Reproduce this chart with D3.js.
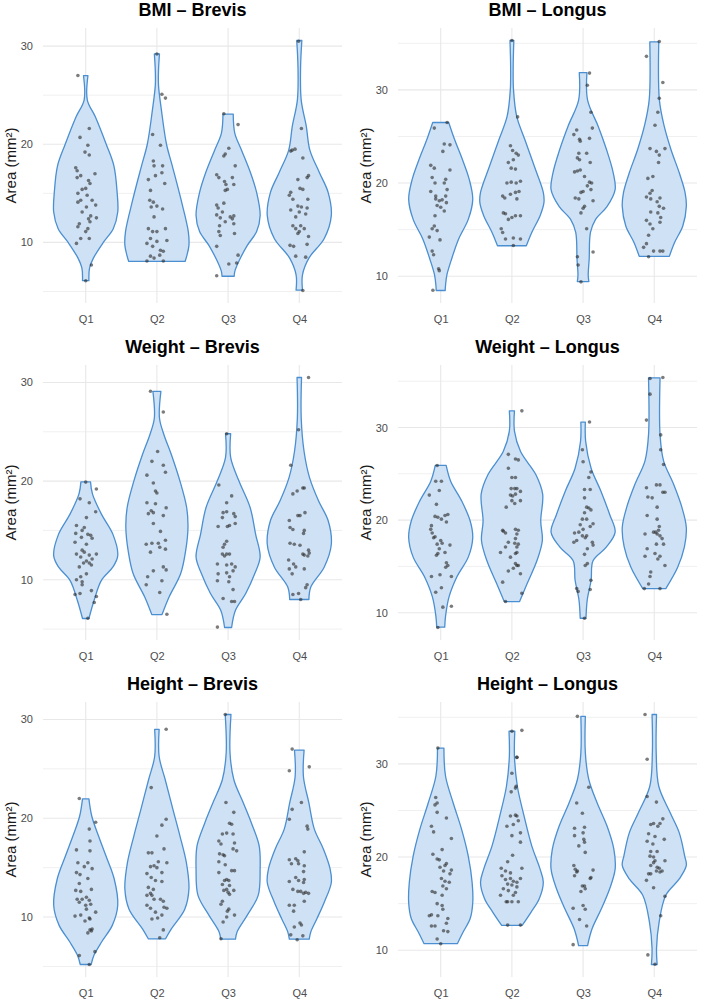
<!DOCTYPE html>
<html><head><meta charset="utf-8">
<script src="https://cdn.jsdelivr.net/npm/d3@7"></script>
<style>body{margin:0;background:#fff;} svg text{font-family:"Liberation Sans",Arial,Helvetica,sans-serif;}</style>
</head><body><svg id="c" width="702" height="999"></svg>
<script>
const quartiles = ["Q1","Q2","Q3","Q4"];
const panelTitles = ["BMI – Brevis","BMI – Longus","Weight – Brevis","Weight – Longus","Height – Brevis","Height – Longus"];
const yTickValues = [10,20,30];
const yLabel = "Area (mm²)";

// Violin density profiles: [area value, relative width (1 = widest)] from min to max, per quartile
const bmiBrevisDensity = [
 [[6.1,0.1],[7.4,0.12],[8.4,0.24],[10,0.55],[11.4,0.86],[13.1,1.0],[15.1,0.98],[17.8,0.88],[20,0.64],[22.8,0.3],[24.5,0.05],[27.0,0.07]],
 [[8.06,0.88],[8.6,0.93],[9.7,1.0],[11.1,0.98],[14.4,0.75],[17.8,0.48],[20,0.3],[23.5,0.14],[26,0.05],[27.5,0.05],[29.2,0.08]],
 [[6.55,0.19],[7.05,0.21],[8.1,0.34],[9.7,0.6],[11.1,0.89],[12.75,1.0],[15.1,0.89],[17.1,0.7],[19.4,0.42],[21.1,0.21],[23.07,0.16]],
 [[5.14,0.1],[6.7,0.1],[8.4,0.3],[10.4,0.78],[12.75,1.0],[15.1,0.9],[17.1,0.63],[19.4,0.33],[21.8,0.22],[24.5,0.06],[27.8,0.04],[30.57,0.08]]
];
const bmiLongusDensity = [
 [[8.47,0.14],[9.0,0.15],[10.1,0.19],[11.85,0.34],[14.0,0.56],[16.1,0.86],[18.25,1.0],[20.4,0.89],[22.5,0.68],[24.7,0.43],[26.5,0.25]],
 [[13.27,0.45],[14.7,0.62],[16.5,0.88],[17.9,1.0],[19.0,0.98],[21.8,0.7],[24.7,0.4],[27.15,0.15],[30,0.05],[32.5,0.04],[35.3,0.06]],
 [[9.43,0.18],[10.1,0.16],[11.85,0.19],[14.7,0.23],[16.1,0.39],[17.5,0.75],[19.3,1.0],[21.1,0.94],[23.6,0.73],[26.1,0.47],[28.9,0.14],[31.85,0.12]],
 [[12.14,0.47],[13.6,0.63],[15.4,0.89],[17.5,1.0],[19.0,0.96],[21.1,0.78],[23.6,0.52],[26.1,0.31],[28.9,0.16],[35.16,0.14]]
];
const weightBrevisDensity = [
 [[6.07,0.1],[7.9,0.26],[9.93,0.49],[11.3,0.85],[12.45,1.0],[14.6,0.85],[16.65,0.49],[18.7,0.21],[19.92,0.15]],
 [[6.47,0.16],[8.25,0.38],[10.6,0.74],[13,0.9],[15.3,0.97],[17.3,0.93],[20,0.72],[22.7,0.45],[24.7,0.22],[26.4,0.08],[29.1,0.125]],
 [[5.16,0.11],[6.9,0.23],[8.6,0.55],[10.6,0.83],[12.3,1.0],[14.6,0.86],[17.3,0.69],[20,0.34],[22.4,0.08],[24.8,0.08]],
 [[8.0,0.3],[9.26,0.36],[11.3,0.78],[13.6,1.0],[16.0,0.9],[18.0,0.6],[20.35,0.32],[23.0,0.15],[26.4,0.06],[30.5,0.07]]
];
const weightLongusDensity = [
 [[8.43,0.125],[9.6,0.15],[11.7,0.26],[13.9,0.51],[16,0.86],[18.1,1.0],[19.9,0.92],[22.1,0.65],[24.2,0.31],[25.9,0.17]],
 [[11.2,0.24],[13.1,0.47],[15.6,0.78],[17.8,0.95],[19.9,0.9],[22.8,0.96],[24.9,0.75],[27.4,0.27],[29.6,0.08],[31.8,0.08]],
 [[9.4,0.09],[11.4,0.13],[13.5,0.25],[15.6,0.31],[17.1,0.73],[18.7,1.0],[20.6,0.83],[23.1,0.56],[25.6,0.25],[28.5,0.08],[30.57,0.07]],
 [[12.6,0.36],[14.9,0.73],[17.1,0.94],[19.2,1.0],[21.4,0.86],[23.9,0.6],[26.4,0.29],[29.2,0.18],[35.36,0.18]]
];
const heightBrevisDensity = [
 [[5.2,0.17],[6.15,0.26],[7.5,0.5],[9.16,0.83],[11.2,1.0],[13.85,0.89],[16.2,0.63],[18.2,0.4],[20.2,0.19],[21.96,0.1]],
 [[7.8,0.27],[8.8,0.45],[10.8,0.87],[12.85,1.0],[15.5,0.92],[18.2,0.72],[20.9,0.5],[23.9,0.26],[26.25,0.07],[29.0,0.07]],
 [[7.76,0.23],[8.5,0.28],[10.2,0.6],[12.2,0.94],[14.85,1.0],[17.2,0.97],[19.5,0.73],[21.6,0.47],[23.9,0.18],[26.6,0.06],[30.5,0.09]],
 [[7.76,0.31],[8.5,0.36],[9.83,0.55],[11.5,0.78],[13.5,1.0],[14.9,0.96],[16.9,0.75],[18.9,0.47],[21.55,0.3],[24.2,0.13],[26.9,0.15]]
];
const heightLongusDensity = [
 [[10.7,0.52],[11.95,0.7],[13.4,0.92],[15.1,1.0],[17.3,0.98],[20.1,0.86],[23,0.65],[25.8,0.39],[28.7,0.15],[31.7,0.1]],
 [[12.67,0.32],[14.1,0.6],[15.5,0.85],[17.3,0.98],[18.7,0.88],[21.2,0.62],[24.4,0.38],[27.6,0.17],[30.8,0.08],[33.5,0.09]],
 [[10.5,0.14],[12.3,0.28],[14.45,0.57],[16.6,0.83],[18.7,1.0],[20.85,0.96],[23.3,0.75],[25.8,0.44],[28.3,0.18],[31.2,0.07],[35.1,0.07]],
 [[8.47,0.09],[10.2,0.07],[13.0,0.15],[15.9,0.36],[17.65,0.78],[19.1,1.0],[20.1,0.95],[22.6,0.78],[24.8,0.49],[27.6,0.14],[31.2,0.06],[35.3,0.07]]
];

// Observations: [area value, horizontal jitter in % of category step]
const bmiBrevisPoints = [
 [[27.0,-11],[21.6,5],[20.7,-8],[19.9,3],[19.2,-1],[18.9,5],[17.6,-14],[17.3,-12],[17.0,13],[16.8,-7],[16.6,-12],[16.3,4],[16.0,6],[15.5,0],[15.4,-5],[15.0,-11],[14.8,2],[14.3,-7],[14.3,9],[14.1,-11],[13.8,14],[13.6,1],[13.1,-5],[12.7,7],[12.4,4],[12.5,15],[11.9,-9],[12.1,6],[11.6,-11],[11.4,3],[11.1,0],[10.4,-7],[10.4,5],[9.9,-13],[7.7,8],[6.1,0]],
 [[29.2,0],[25.1,7],[24.7,12],[21.0,-6],[19.9,5],[18.3,-5],[17.8,-4],[17.8,8],[16.4,-12],[16.8,-2],[17.1,7],[16.0,11],[15.3,-9],[14.3,-10],[14.1,-5],[13.6,-8],[13.7,0],[13.4,8],[12.6,-4],[11.4,-12],[11.1,-6],[11.1,0],[11.4,12],[10.4,-9],[9.9,-14],[10.1,0],[9.6,-6],[9.2,5],[8.6,-9],[8.4,-4],[8.7,4],[9.1,9],[8.1,-14],[8.1,9],[10.2,14]],
 [[23.1,-6],[22.0,14],[19.6,1],[19.0,-4],[18.8,-6],[17.8,10],[16.9,-16],[16.6,-13],[16.6,6],[16.2,-5],[15.9,-3],[15.9,8],[15.3,-4],[15.4,-1],[14.0,-6],[13.8,-16],[13.5,-14],[13.1,-8],[12.8,-16],[12.5,-11],[12.6,3],[12.7,8],[12.4,6],[12.1,-4],[11.7,-12],[11.9,8],[11.1,-13],[10.7,-11],[10.9,9],[9.6,-16],[8.7,14],[7.9,12],[7.8,1],[6.6,-16]],
 [[30.5,-1],[21.6,3],[19.5,-6],[19.3,-12],[19.4,-10],[18.6,5],[16.8,13],[16.6,11],[16.4,-2],[15.5,1],[15.4,5],[15.1,-12],[14.8,-14],[14.4,-9],[14.4,12],[13.7,-2],[13.6,3],[13.5,11],[13.3,-12],[13.1,0],[12.9,9],[12.6,-5],[11.7,-9],[11.7,2],[11.4,-5],[11.4,7],[11.1,0],[10.9,-2],[10.6,13],[9.7,-13],[9.6,-8],[9.8,11],[8.6,-5],[8.5,9],[5.1,5]]
];
const bmiLongusPoints = [
 [[26.5,9],[25.9,-9],[24.2,5],[24.1,13],[23.4,3],[21.9,-14],[21.6,-9],[21.4,13],[20.6,-12],[20.4,7],[20.0,5],[20.0,-8],[19.1,-14],[19.3,9],[18.6,-7],[18.6,7],[18.3,-7],[18.2,2],[18.1,-2],[17.9,8],[17.6,-5],[17.4,0],[17.0,5],[16.5,-8],[15.4,-9],[15.1,-12],[14.9,-5],[14.2,-16],[13.9,-1],[12.7,-12],[12.3,-10],[10.8,-3],[10.6,-2],[8.5,-11]],
 [[35.3,0],[27.1,8],[24.0,-2],[23.5,1],[23.2,6],[22.5,2],[22.2,-5],[23.0,9],[21.6,-1],[21.5,5],[20.0,-7],[20.1,-1],[20.0,6],[20.2,12],[18.6,-13],[18.4,-10],[18.8,-2],[19.0,5],[19.1,10],[18.3,7],[16.8,-12],[16.7,-9],[16.3,0],[16.5,5],[16.5,12],[16.1,-5],[15.1,-15],[14.7,-13],[14.0,-9],[14.1,2],[14.0,12],[13.3,2]],
 [[31.8,9],[30.5,6],[27.6,11],[25.9,13],[25.7,-9],[25.2,-13],[24.8,9],[24.5,-4],[24.7,-5],[23.2,-6],[23.2,5],[22.7,-8],[22.2,10],[22.5,-5],[21.2,-12],[21.3,-8],[21.4,-4],[20.7,2],[20.1,9],[20.0,12],[19.7,6],[19.3,11],[19.1,0],[19.0,-3],[18.4,-11],[18.3,-6],[18.1,14],[17.5,2],[17.3,0],[16.8,-3],[15.1,5],[12.6,14],[12.1,-8],[11.2,-7],[9.4,-3]],
 [[35.2,7],[33.6,-11],[30.8,12],[29.1,7],[27.6,5],[26.2,1],[23.7,-6],[23.4,3],[23.7,15],[23.0,7],[22.2,6],[20.7,-2],[20.5,-9],[19.2,-3],[18.9,-6],[18.5,-11],[18.3,-5],[18.4,8],[18.0,4],[17.3,13],[17.5,7],[16.8,5],[16.9,-5],[16.3,9],[15.8,8],[16.0,-11],[15.6,-6],[15.1,-2],[14.4,-8],[13.5,-11],[13.1,-15],[12.7,-1],[12.7,8],[12.7,12],[12.1,-8]]
];
const weightBrevisPoints = [
 [[19.9,0],[19.2,15],[18.2,-8],[17.8,5],[16.9,14],[16.3,1],[15.5,-13],[15.3,-2],[15.0,-5],[14.7,-14],[14.6,3],[14.5,7],[14.3,-6],[14.2,9],[13.8,-15],[13.6,1],[13.0,-5],[12.8,-2],[12.6,-13],[12.6,15],[12.5,5],[12.3,-7],[12.1,9],[11.9,1],[11.7,-3],[11.7,5],[11.5,8],[11.3,-9],[10.6,1],[10.3,-7],[10.0,-13],[9.8,-5],[9.5,-5],[8.9,8],[8.5,-15],[8.6,-8],[8.3,15],[7.7,12],[6.1,3]],
 [[29.1,-9],[27.0,9],[23.0,1],[22.0,-7],[21.6,9],[20.6,-14],[19.8,-5],[20.9,12],[19.0,-2],[18.8,0],[17.8,-14],[17.7,-2],[16.7,-12],[17.0,-8],[16.8,-5],[17.3,13],[16.5,9],[15.7,-5],[14.9,5],[13.6,-15],[13.7,-7],[13.7,2],[14.0,12],[13.1,12],[12.8,-9],[13.3,4],[11.3,9],[11.0,13],[10.9,-5],[10.3,-13],[9.9,7],[9.5,-15],[8.7,4],[6.5,14]],
 [[24.8,-2],[19.6,-13],[18.5,5],[17.8,-2],[16.8,-7],[16.9,-2],[16.7,8],[16.4,10],[16.3,-8],[15.4,-14],[15.5,2],[15.7,10],[15.4,-1],[13.9,-2],[13.6,-5],[13.3,-7],[12.6,-2],[12.6,-8],[12.6,2],[12.4,-5],[11.6,5],[11.5,-2],[11.6,-15],[11.3,10],[10.9,7],[10.6,-14],[10.7,-2],[10.3,2],[9.9,-15],[9.8,1],[9.0,7],[8.1,-7],[7.8,5],[7.8,9],[5.2,-15]],
 [[30.5,13],[25.2,-1],[21.6,-12],[18.7,-9],[19.0,-3],[19.3,5],[19.3,7],[16.8,8],[16.5,-2],[16.5,1],[16.0,-14],[15.3,-13],[15.0,7],[14.7,6],[15.1,-9],[13.7,-13],[13.6,-7],[13.5,1],[13.0,13],[12.7,14],[12.6,5],[12.5,7],[12.4,12],[12.0,-15],[11.6,-8],[11.3,-5],[11.1,-14],[10.6,-10],[11.1,7],[9.5,11],[9.2,9],[8.5,-9],[8.6,-1],[8.0,2]]
];
const weightLongusPoints = [
 [[25.9,-5],[24.2,-7],[24.2,1],[22.7,-16],[23.2,-2],[21.7,-6],[20.4,-8],[20.3,-4],[20.5,6],[20.6,10],[20.1,1],[19.8,8],[19.4,-13],[19.0,-14],[18.6,-12],[18.2,-8],[18.1,-10],[17.8,0],[17.5,2],[17.4,-5],[17.3,13],[16.9,-2],[16.5,6],[16.4,-4],[16.2,-6],[15.4,8],[15.1,10],[14.9,7],[13.9,15],[13.9,-13],[14.1,-1],[12.7,1],[12.2,-7],[10.6,3],[10.7,15],[8.4,-4]],
 [[11.2,-9],[13.3,-13],[14.8,2],[14.5,-5],[15.1,7],[16.0,-2],[16.4,5],[16.5,-16],[17.1,-9],[17.5,4],[17.1,7],[17.6,-5],[18.6,-9],[18.9,-13],[18.8,-12],[19.0,5],[21.8,4],[22.1,0],[21.4,-8],[22.6,1],[22.7,-2],[23.4,4],[23.4,-1],[24.6,0],[25.6,-5],[27.1,-5],[26.6,5],[31.8,14],[26.5,9],[24.6,5],[23.4,7],[23.1,12],[22.8,5],[22.1,12],[18.9,9],[18.5,7],[18.0,5],[17.4,9],[16.5,7],[15.3,5],[15.1,9],[14.2,12],[12.1,14]],
 [[30.6,9],[27.6,-1],[26.3,0],[25.2,11],[24.6,8],[23.3,2],[23.3,10],[22.4,2],[21.4,5],[21.3,8],[21.1,11],[20.8,2],[20.1,5],[20.1,-1],[19.6,14],[19.5,-4],[19.3,10],[19.0,0],[18.6,-12],[18.7,-6],[18.3,-1],[18.1,3],[18.3,5],[17.8,-9],[17.6,-13],[17.6,13],[17.3,14],[16.9,6],[16.3,2],[15.3,6],[15.1,3],[13.5,11],[12.6,-9],[12.5,10],[12.3,-7],[9.4,2]],
 [[35.3,-6],[35.4,12],[33.6,-6],[30.8,-11],[29.2,9],[27.6,9],[26.0,13],[23.5,-11],[23.8,3],[23.8,8],[23.0,12],[23.0,15],[22.5,-9],[22.4,-3],[21.4,4],[20.5,-10],[20.1,4],[19.3,7],[18.9,6],[18.7,-1],[18.5,-13],[18.5,4],[18.3,8],[18.7,2],[18.0,11],[17.4,13],[17.4,3],[16.9,-10],[16.4,1],[16.1,8],[16.1,-13],[15.8,5],[15.1,15],[14.4,-5],[13.9,-6],[13.1,-8],[12.6,-14],[12.6,8]]
];
const heightBrevisPoints = [
 [[22.0,-9],[19.6,14],[18.9,5],[17.7,6],[16.8,-13],[16.7,6],[15.5,-11],[15.5,3],[15.1,-2],[14.9,9],[14.5,-13],[14.3,-8],[13.9,3],[13.4,-9],[12.8,8],[12.7,-14],[12.6,-7],[12.0,1],[11.8,-12],[11.8,-5],[11.5,-9],[11.7,5],[11.2,0],[11.3,7],[10.8,1],[10.5,14],[10.1,-15],[10.2,-7],[9.9,5],[9.6,-1],[9.8,6],[8.7,6],[8.8,9],[8.4,3],[8.6,8],[6.1,-9],[6.5,13],[5.2,5]],
 [[29.0,13],[23.1,-8],[19.9,13],[19.3,7],[18.2,0],[16.5,-12],[16.5,-7],[16.9,10],[15.6,2],[15.5,14],[15.2,-4],[15.1,-9],[15.0,0],[14.5,7],[14.4,-14],[14.0,-8],[13.7,-2],[13.6,7],[13.0,-12],[12.8,-5],[12.4,-9],[12.2,-14],[12.2,-7],[11.8,-4],[11.8,5],[11.6,9],[11.0,10],[10.9,14],[11.2,-14],[10.9,-9],[10.5,-2],[10.2,7],[9.9,1],[9.8,-7],[8.7,9],[7.9,4]],
 [[30.5,-4],[21.6,-3],[20.6,8],[19.5,2],[19.4,5],[18.5,-2],[18.4,-8],[18.4,7],[17.7,-13],[17.5,9],[17.4,-10],[16.9,7],[16.7,12],[16.4,-12],[16.3,-7],[16.2,-5],[15.6,-13],[15.3,-4],[14.7,5],[14.7,9],[14.5,-13],[13.8,-2],[13.7,-5],[13.7,1],[13.3,-8],[13.2,2],[12.8,-2],[12.7,-6],[12.5,0],[12.7,8],[12.3,2],[11.6,-8],[11.3,-10],[10.8,1],[10.6,-1],[10.2,9],[10.0,-2],[9.5,-7],[7.8,-10]],
 [[27.0,-10],[25.2,14],[24.8,-14],[21.6,3],[20.9,-10],[19.9,-14],[19.2,11],[18.9,12],[16.6,7],[15.9,-5],[15.8,-14],[15.7,-2],[15.4,-11],[15.2,7],[15.4,-1],[14.6,6],[14.0,-5],[13.6,-14],[13.7,-1],[13.8,7],[13.5,6],[12.8,-9],[12.6,-2],[12.6,2],[12.5,9],[12.4,13],[12.4,6],[11.2,-14],[11.2,-7],[10.6,-8],[11.6,7],[9.2,3],[9.4,1],[9.0,-7],[8.2,-12],[8.1,5],[7.7,-3]]
];
const heightLongusPoints = [
 [[31.7,-4],[26.4,-7],[25.8,-5],[25.6,-8],[24.2,8],[24.8,-5],[23.3,-13],[22.7,-10],[22.0,15],[20.3,-11],[20.8,2],[19.8,-5],[19.7,-2],[19.3,8],[19.1,6],[18.9,-1],[18.5,4],[18.6,15],[18.2,13],[17.7,1],[17.4,6],[16.9,3],[17.3,12],[16.6,8],[16.3,-12],[16.2,-8],[15.9,2],[15.0,-5],[14.8,2],[14.4,3],[13.8,-13],[13.7,-4],[13.7,-16],[13.4,10],[12.9,8],[12.6,-13],[12.6,-8],[12.1,4],[12.0,10],[11.2,-5],[10.7,0]],
 [[33.5,0],[30.7,7],[29.0,0],[27.0,-1],[27.6,6],[23.3,-7],[24.4,-2],[24.5,5],[23.5,2],[22.3,0],[20.2,1],[19.5,-6],[18.8,-15],[18.5,-9],[18.3,-2],[18.0,-14],[17.6,-9],[17.7,-2],[17.4,2],[17.1,-6],[17.0,0],[16.8,7],[16.6,-12],[16.4,-5],[15.9,-16],[15.9,2],[15.2,-8],[15.2,-6],[15.2,0],[12.7,-6],[33.6,14],[30.7,7],[27.4,5],[24.4,7],[23.9,9],[22.6,12],[21.6,12],[18.8,14],[17.7,12],[17.3,7],[16.2,5],[15.2,9],[12.7,12]],
 [[35.1,-8],[27.5,8],[25.8,-9],[24.7,-1],[23.2,2],[23.1,-12],[22.6,0],[22.3,-12],[21.9,1],[21.6,2],[21.2,-6],[20.5,3],[19.1,-13],[18.7,-11],[18.4,-9],[18.0,-12],[18.6,14],[18.5,-8],[17.7,10],[17.8,11],[16.9,-1],[16.9,2],[16.6,3],[16.3,-3],[14.5,-14],[14.8,0],[14.4,3],[13.3,-5],[12.6,5],[10.6,-14]],
 [[35.3,-13],[30.5,-10],[26.5,-10],[25.9,3],[24.1,12],[23.5,-5],[23.6,-1],[23.3,5],[23.6,8],[22.5,-8],[22.2,1],[21.9,14],[21.7,-10],[21.4,-2],[20.6,-5],[20.6,4],[20.1,-6],[20.0,-1],[19.6,1],[19.6,15],[19.4,-1],[19.1,-5],[18.9,4],[18.8,7],[18.5,11],[18.4,8],[18.5,3],[18.2,-8],[18.2,-5],[17.5,-11],[16.7,-1],[15.8,15],[13.7,9],[9.5,-9],[8.5,1]]
];

const panelViolins = [bmiBrevisDensity, bmiLongusDensity, weightBrevisDensity, weightLongusDensity, heightBrevisDensity, heightLongusDensity];
const panelPoints = [bmiBrevisPoints, bmiLongusPoints, weightBrevisPoints, weightLongusPoints, heightBrevisPoints, heightLongusPoints];

const svg = d3.select("#c");
svg.append("rect").attr("width",702).attr("height",999).attr("fill","#fff");

panelTitles.forEach((title, i) => {
  const col = i % 2, row = Math.floor(i / 2);
  const ox = col * 355, oy = row * 337;
  const L = ox + 43, R = ox + 342, T = oy + 28, B = oy + 303;
  const violins = panelViolins[i], points = panelPoints[i];

  const allVals = [];
  violins.forEach(v => v.forEach(d => allVals.push(d[0])));
  points.forEach(p => p.forEach(d => allVals.push(d[0])));
  const [vmin, vmax] = d3.extent(allVals);
  const pad = (vmax - vmin) * 0.05;
  const y = d3.scaleLinear().domain([vmin - pad, vmax + pad]).range([B, T]);
  const x = d3.scalePoint().domain(quartiles).range([L, R]).padding(0.6);
  const step = x.step();
  const halfMax = step * 0.45;

  const g = svg.append("g");
  const [d0, d1] = y.domain();
  const minor = d3.range(Math.ceil(d0 / 5) * 5, d1, 5).filter(v => v % 10 !== 0);
  g.selectAll(".minor").data(minor).join("line")
    .attr("x1", L).attr("x2", R).attr("y1", d => y(d)).attr("y2", d => y(d))
    .attr("stroke", "#f0f0f0").attr("stroke-width", 1);
  g.selectAll(".major").data(yTickValues).join("line")
    .attr("x1", L).attr("x2", R).attr("y1", d => y(d)).attr("y2", d => y(d))
    .attr("stroke", "#e8e8e8").attr("stroke-width", 1.1);
  g.selectAll(".vgrid").data(quartiles).join("line")
    .attr("x1", d => x(d)).attr("x2", d => x(d)).attr("y1", T).attr("y2", B)
    .attr("stroke", "#e8e8e8").attr("stroke-width", 1.1);

  // axes
  const ya = g.append("g").attr("transform", `translate(${L},0)`)
    .call(d3.axisLeft(y).tickValues(yTickValues).tickSize(0).tickPadding(10));
  ya.select(".domain").remove();
  ya.selectAll("text").attr("font-size", 11).attr("fill", "#4d4d4d");
  const xa = g.append("g").attr("transform", `translate(0,${B})`)
    .call(d3.axisBottom(x).tickSize(0).tickPadding(12));
  xa.select(".domain").remove();
  xa.selectAll("text").attr("font-size", 11).attr("fill", "#4d4d4d");

  // violins
  quartiles.forEach((q, k) => {
    const cx = x(q);
    const area = d3.area()
      .y(d => y(d[0]))
      .x0(d => cx - d[1] * halfMax)
      .x1(d => cx + d[1] * halfMax)
      .curve(d3.curveCatmullRom.alpha(0.5));
    g.append("path").datum(violins[k]).attr("d", area)
      .attr("fill", "#cfe1f4").attr("stroke", "#4a8fd1").attr("stroke-width", 1.3)
      .attr("stroke-linejoin", "round");
  });
  // points
  quartiles.forEach((q, k) => {
    const cx = x(q);
    g.selectAll(null).data(points[k]).join("circle")
      .attr("cx", d => cx + d[1] / 100 * step)
      .attr("cy", d => y(d[0]))
      .attr("r", 1.8)
      .attr("fill", "#2b2b2b").attr("fill-opacity", 0.62);
  });

  // titles
  g.append("text").attr("x", (L + R) / 2).attr("y", oy + 16).attr("text-anchor", "middle")
    .attr("font-size", 18).attr("font-weight", "bold").attr("fill", "#000").text(title);
  g.append("text").attr("transform", `translate(${ox + 16},${(T + B) / 2}) rotate(-90)`)
    .attr("text-anchor", "middle").attr("font-size", 15).attr("fill", "#1a1a1a").text(yLabel);
});
</script></body></html>
